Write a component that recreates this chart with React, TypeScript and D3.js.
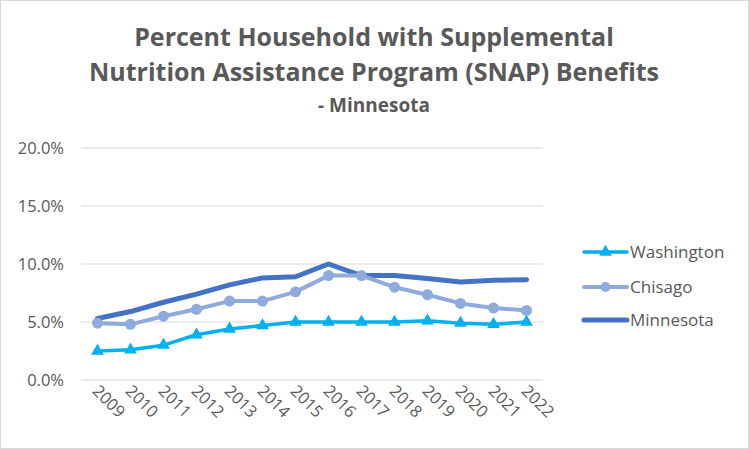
import React from "react";
import * as d3 from "d3";

const years = ["2009","2010","2011","2012","2013","2014","2015","2016","2017","2018","2019","2020","2021","2022"];
const washington = [2.5, 2.6, 3.0, 3.9, 4.4, 4.7, 5.0, 5.0, 5.0, 5.0, 5.1, 4.9, 4.8, 5.0];
const chisago = [4.9, 4.8, 5.5, 6.1, 6.8, 6.8, 7.6, 9.0, 9.0, 8.0, 7.35, 6.6, 6.2, 6.0];
const minnesota = [5.3, 5.9, 6.7, 7.4, 8.2, 8.8, 8.9, 10.0, 9.0, 9.0, 8.75, 8.45, 8.6, 8.65];
const yTicks = [0, 5, 10, 15, 20];
const titleLines = ["Percent Household with Supplemental", "Nutrition Assistance Program (SNAP) Benefits", "- Minnesota"];

const W = 749, H = 449;
const FONT = "Open Sans, Noto Sans, sans-serif";
const TXT = "#595959";

export default function App() {
  const x = d3.scaleBand<string>().domain(years).range([81, 543]);
  const y = d3.scaleLinear().domain([0, 20]).range([380, 148]);
  const cx = (i: number) => (x(years[i]) as number) + x.bandwidth() / 2;
  const line = d3.line<number>().x((_, i) => cx(i)).y((d) => y(d));
  const tri = d3.symbol().type(d3.symbolTriangle).size(70)();

  const series = [
    { name: "Washington", data: washington, color: "#00B0F0", w: 3.5, marker: "tri" },
    { name: "Chisago", data: chisago, color: "#8FAADC", w: 4, marker: "circle" },
    { name: "Minnesota", data: minnesota, color: "#4472C4", w: 5, marker: "none" },
  ];
  const drawOrder = [series[2], series[1], series[0]];
  const legendY = [252, 287, 320];

  return (
    <svg width={W} height={H} style={{ position: "absolute", left: 0, top: 0 }} fontFamily={FONT}>
      <rect x={0.5} y={0.5} width={W - 1} height={H - 1} fill="#fff" stroke="#d9d9d9" />
      {titleLines.map((t, i) => (
        <text key={i} x={374} y={[46, 81, 112][i]} textAnchor="middle" fill={TXT}
          fontWeight="bold" fontSize={i === 2 ? 19 : 25}>{t}</text>
      ))}
      {yTicks.map((t) => (
        <g key={t}>
          <line x1={81} x2={543} y1={y(t)} y2={y(t)} stroke="#d9d9d9" strokeWidth={1} />
          <text x={64} y={y(t)} dy="0.35em" textAnchor="end" fontSize={16.5} fill={TXT}>
            {t.toFixed(1) + "%"}
          </text>
        </g>
      ))}
      {years.map((yr, i) => (
        <text key={yr} transform={`translate(${cx(i) - 6},${392}) rotate(45)`} fontSize={16.5} fill={TXT}>
          {yr}
        </text>
      ))}
      {drawOrder.map((s) => (
        <g key={s.name}>
          <path d={line(s.data) as string} fill="none" stroke={s.color} strokeWidth={s.w}
            strokeLinejoin="round" strokeLinecap="round" />
          {s.marker === "circle" && s.data.map((v, i) => (
            <circle key={i} cx={cx(i)} cy={y(v)} r={5.5} fill={s.color} />
          ))}
          {s.marker === "tri" && s.data.map((v, i) => (
            <path key={i} d={tri as string} transform={`translate(${cx(i)},${y(v)})`} fill={s.color} />
          ))}
        </g>
      ))}
      {series.map((s, k) => (
        <g key={s.name}>
          <line x1={584} x2={627} y1={legendY[k]} y2={legendY[k]} stroke={s.color} strokeWidth={s.w} strokeLinecap="round" />
          {s.marker === "circle" && <circle cx={605.5} cy={legendY[k]} r={5} fill={s.color} />}
          {s.marker === "tri" && <path d={tri as string} transform={`translate(605.5,${legendY[k]})`} fill={s.color} />}
          <text x={630} y={legendY[k]} dy="0.35em" fontSize={17} fill={TXT}>{s.name}</text>
        </g>
      ))}
    </svg>
  );
}
